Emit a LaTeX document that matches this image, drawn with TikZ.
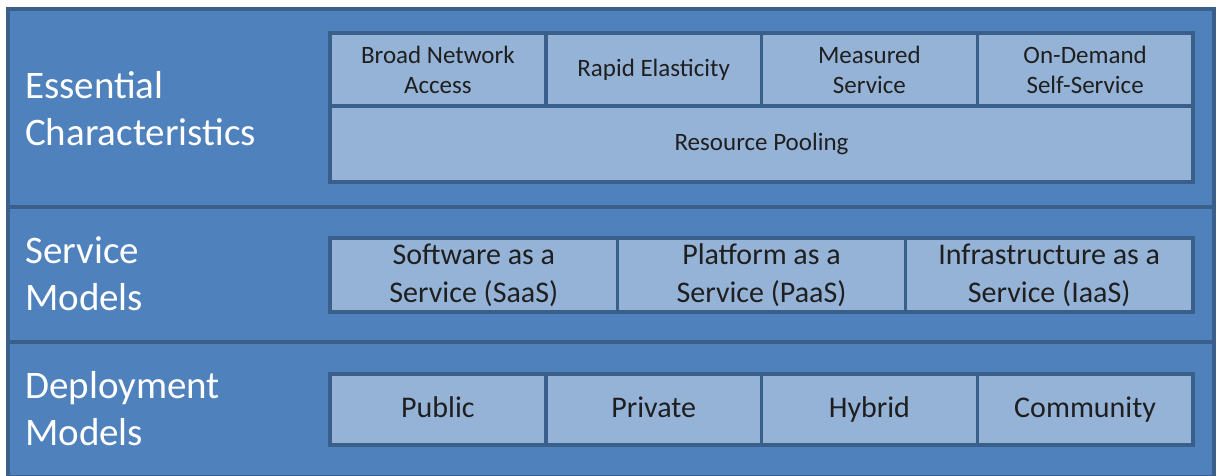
\documentclass[tikz,border=0pt]{standalone}
\usepackage{fontspec}
\setmainfont{Carlito}
\usetikzlibrary{positioning}
\definecolor{bandblue}{HTML}{4F81BD}
\definecolor{edgeblue}{HTML}{3A5F8B}
\definecolor{cellblue}{HTML}{95B3D7}
\begin{document}
\begin{tikzpicture}[
x=1pt, y=-1pt,
band/.style={rectangle, draw=edgeblue, fill=bandblue, line width=3.5pt, minimum width=1206pt, inner sep=0pt, outer sep=0pt, anchor=north west},
cell/.style={rectangle, draw=edgeblue, fill=cellblue, line width=3.5pt, inner sep=0pt, outer sep=0pt, align=center, text=black!88},
smallcell/.style={cell, minimum width=215.75pt, minimum height=73pt, font=\fontsize{25}{30}\selectfont},
servicecell/.style={cell, minimum width=287.67pt, minimum height=74pt, font=\fontsize{30}{38}\selectfont},
deploycell/.style={cell, minimum width=215.75pt, minimum height=71pt, text height=22pt, text depth=7pt, font=\fontsize{30}{36}\selectfont},
bandlabel/.style={text=white, align=left, anchor=west, inner sep=0pt, font=\fontsize{39}{47}\selectfont},
]
\useasboundingbox (0,0) rectangle (1217,475);
%Bands
\node[band, minimum height=198pt] (essential) at (8,9) {};
\node[band, minimum height=135pt] (service) [below=0pt of essential.south west, anchor=north west] {};
\node[band, minimum height=135pt] (deployment) [below=0pt of service.south west, anchor=north west] {};

%Labels
\node[bandlabel] (esslabel) at (25,109) {Essential\\Characteristics};
\node[bandlabel] (servlabel) at (25,274) {Service\\Models};
\node[bandlabel] (deplabel) at (25,409) {Deployment\\Models};

%Characteristics
\node[smallcell, anchor=north west] (broad) at (330,33) {Broad Network\\Access};
\node[smallcell] (rapid) [right=0pt of broad] {Rapid Elasticity};
\node[smallcell] (measured) [right=0pt of rapid] {Measured\\Service};
\node[smallcell] (ondemand) [right=0pt of measured] {On-Demand\\Self-Service};
\node[cell, minimum width=863pt, minimum height=76pt, font=\fontsize{25}{30}\selectfont, anchor=north west] (pooling) at (broad.south west) {Resource Pooling};

%Service models
\node[servicecell, anchor=north west] (saas) at (330,238) {Software as a\\Service (SaaS)};
\node[servicecell] (paas) [right=0pt of saas] {Platform as a\\Service (PaaS)};
\node[servicecell] (iaas) [right=0pt of paas] {Infrastructure as a\\Service (IaaS)};

%Deployment models
\node[deploycell, anchor=north west] (public) at (330,374) {Public};
\node[deploycell] (private) [right=0pt of public] {Private};
\node[deploycell] (hybrid) [right=0pt of private] {Hybrid};
\node[deploycell] (community) [right=0pt of hybrid] {Community};

\end{tikzpicture}
\end{document}
